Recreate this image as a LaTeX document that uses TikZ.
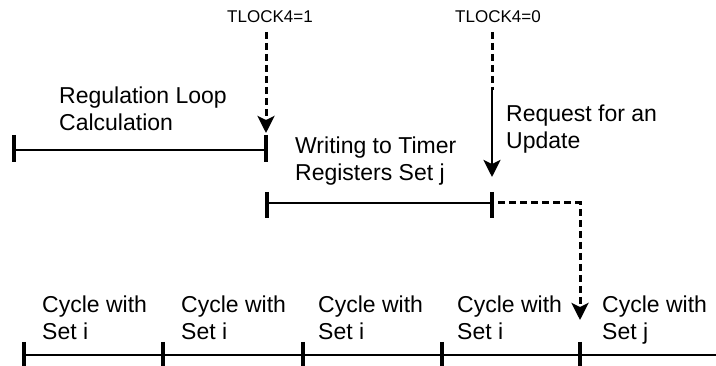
\documentclass[tikz,border=0pt]{standalone}
\usepackage{fontspec}
\setmainfont{Liberation Sans}
\usetikzlibrary{arrows.meta}
\tikzset{
  txt/.style={anchor=north west, inner sep=0pt, align=left, font=\fontsize{23}{27}\selectfont},
  lock/.style={anchor=base, inner sep=0pt, font=\fontsize{17}{20}\selectfont},
  span/.style={line width=2.8pt},
  tick/.style={line width=3.2pt},
  dsh/.style={line width=3pt, dash pattern=on 7pt off 4pt},
  tip/.style={-{Stealth[length=17pt,width=17pt,inset=4pt]}}
}
\begin{document}
\begin{tikzpicture}[x=1pt,y=-1pt]
      \useasboundingbox (0,0) rectangle (716,366);
      \node[lock] (lock1) at (270,23) {TLOCK4=1};
      \node[lock] (lock0) at (498,23) {TLOCK4=0};
      \node[txt] (calc) at (59,87) {Regulation Loop\\Calculation};
      \node[txt] (write) at (295,137) {Writing to Timer\\Registers Set j};
      \node[txt] (req) at (506,105) {Request for an\\Update};
      \node[txt] (cyc1) at (42,296) {Cycle with\\Set i};
      \node[txt] (cyc2) at (181,296) {Cycle with\\Set i};
      \node[txt] (cyc3) at (318,296) {Cycle with\\Set i};
      \node[txt] (cyc4) at (457,296) {Cycle with\\Set i};
      \node[txt] (cyc5) at (602,296) {Cycle with\\Set j};
      \coordinate (calcL) at (14,150);
      \coordinate (calcR) at (266,150);
      \coordinate (wrL) at (267,203);
      \coordinate (wrR) at (492,203);
      \coordinate (cycL) at (24,355);
      \coordinate (cycR) at (716,355);
      \coordinate (hit1) at (266,133);
      \coordinate (lock0b) at (492,90);
      \coordinate (hit0) at (492,177);
      \coordinate (bend) at (580,203);
      \coordinate (hitj) at (580,320);
      \draw[span] (calcL) -- (calcR);
      \draw[span] (wrL) -- (wrR);
      \draw[span] (cycL) -- (cycR);
      \foreach \x in {14,266} \draw[tick] (\x,135) -- (\x,162);
      \foreach \x in {267,492} \draw[tick] (\x,192) -- (\x,218);
      \foreach \x in {24,163,303,442,580} \draw[tick] (\x,342) -- (\x,366);
      \draw[dsh,tip] (266,32) -- (hit1);
      \draw[dsh] (492,32) -- (lock0b);
      \draw[span,tip] (lock0b) -- (hit0);
      \draw[dsh,tip] ([xshift=6pt]wrR) -- (bend) -- (hitj);
    \end{tikzpicture}
\end{document}
